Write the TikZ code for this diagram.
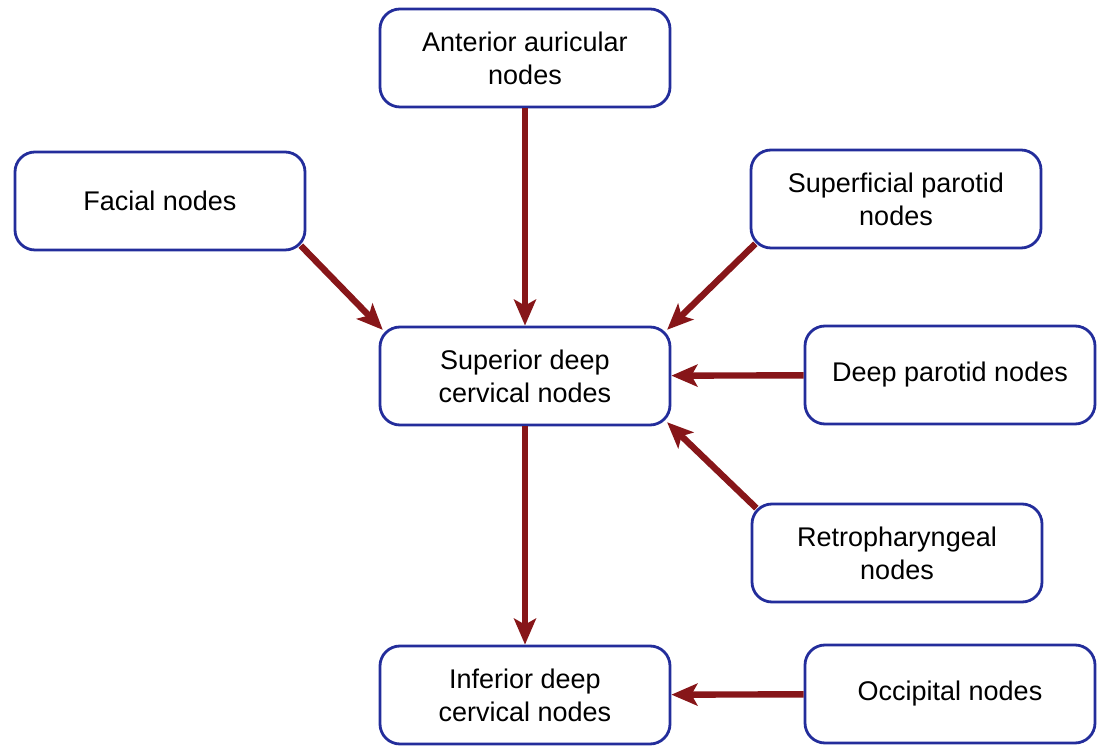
\documentclass[tikz,border=0pt]{standalone}
\usepackage{fontspec}
\setmainfont{Liberation Sans}
\usetikzlibrary{positioning,arrows.meta}
\definecolor{boxblue}{RGB}{35,45,155}
\definecolor{flowred}{RGB}{135,22,25}

\begin{document}
\begin{tikzpicture}[x=0.5pt,y=-0.5pt,
    lymph/.style={draw=boxblue, line width=1.4pt, rounded corners=10pt, fill=white,
      minimum width=145pt, minimum height=49pt, align=center, inner sep=2pt,
      font=\fontsize{13.5}{16.5}\selectfont},
    flow/.style={draw=flowred, line width=3.2pt, -{Stealth[length=13pt,width=11pt,inset=3pt]}},
    corner/.style={shorten <=-4pt, shorten >=-3pt}]
  \useasboundingbox (0,0) rectangle (1103,747);

  % lymph node groups
  \node[lymph] (ant) at (525,58) {Anterior auricular\\nodes};
  \node[lymph] (fac) at (160,201) {Facial nodes};
  \node[lymph] (supf) at (896,199) {Superficial parotid\\nodes};
  \node[lymph] (sup) at (525,376) {Superior deep\\cervical nodes};
  \node[lymph] (deep) at (950,375) {Deep parotid nodes};
  \node[lymph] (retro) at (897,553) {Retropharyngeal\\nodes};
  \node[lymph] (inf) at (525,695) {Inferior deep\\cervical nodes};
  \node[lymph] (occ) at (950,694) {Occipital nodes};

  % drainage
  \draw[flow] (ant) -- (sup);
  \draw[flow, corner] (fac.south east) -- (sup.north west);
  \draw[flow, corner] (supf.south west) -- (sup.north east);
  \draw[flow] (deep) -- (sup);
  \draw[flow, corner] (retro.north west) -- (sup.south east);
  \draw[flow] (sup) -- (inf);
  \draw[flow] (occ) -- (inf);
\end{tikzpicture}
\end{document}
